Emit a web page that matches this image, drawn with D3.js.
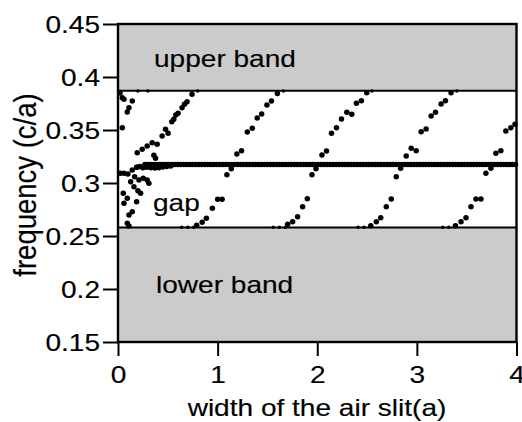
<!DOCTYPE html>
<html>
<head>
<meta charset="utf-8">
<script src="https://cdn.jsdelivr.net/npm/d3@7"></script>
<style>
    html, body { margin: 0; padding: 0; background: #fff; }
    svg { display: block; font-family: "Liberation Sans", Arial, Helvetica, sans-serif; }
    svg text { stroke: #000; stroke-width: 0.15px; }
</style>
</head>
<body>
<svg id="chart" width="522" height="422"></svg>
<script>
(function() {
    'use strict';

    // axes
    var xTicks = [0, 1, 2, 3, 4];
    var yTicks = [0.15, 0.2, 0.25, 0.3, 0.35, 0.4, 0.45];
    var xLabel = 'width of the air slit(a)';
    var yLabel = 'frequency (c/a)';

    // photonic bands (gray regions)
    var bandNames = ['upper band', 'lower band'];
    var bandLow = [0.387, 0.15];
    var bandHigh = [0.45, 0.258];
    var gapName = 'gap';

    // defect mode inside the gap, flat part
    var flatLevel = 0.3175;
    var flatX = [0.27, 0.30, 0.33, 0.36, 0.39, 0.42, 0.45, 0.48, 0.51, 0.54, 0.57, 0.60, 0.63, 0.66, 0.69,
        0.72, 0.75, 0.78, 0.81, 0.84, 0.87, 0.90, 0.93, 0.96, 0.99, 1.02, 1.05, 1.08, 1.11, 1.14, 1.17,
        1.20, 1.23, 1.26, 1.29, 1.32, 1.35, 1.38, 1.41, 1.44, 1.47, 1.50, 1.53, 1.56, 1.59, 1.62, 1.65,
        1.68, 1.71, 1.74, 1.77, 1.80, 1.83, 1.86, 1.89, 1.92, 1.95, 1.98, 2.01, 2.04, 2.07, 2.10, 2.13,
        2.16, 2.19, 2.22, 2.25, 2.28, 2.31, 2.34, 2.37, 2.40, 2.43, 2.46, 2.49, 2.52, 2.55, 2.58, 2.61,
        2.64, 2.67, 2.70, 2.73, 2.76, 2.79, 2.82, 2.85, 2.88, 2.91, 2.94, 2.97, 3.00, 3.03, 3.06, 3.09,
        3.12, 3.15, 3.18, 3.21, 3.24, 3.27, 3.30, 3.33, 3.36, 3.39, 3.42, 3.45, 3.48, 3.51, 3.54, 3.57,
        3.60, 3.63, 3.66, 3.69, 3.72, 3.75, 3.78, 3.81, 3.84, 3.87, 3.90, 3.93, 3.96, 3.99];
    var flatStart = [[0.19, 0.3148], [0.22, 0.3155], [0.25, 0.3145], [0.29, 0.3148], [0.33, 0.3145],
        [0.37, 0.3142], [0.41, 0.3145], [0.45, 0.315], [0.49, 0.3155], [0.53, 0.316]];

    // modes near zero slit width
    var leftTop = [[0.02, 0.385], [0.043, 0.3805], [0.06, 0.379], [0.143, 0.3774], [0.11, 0.371],
        [0.093, 0.367], [0.043, 0.3522]];
    var leftLow = [[0.023, 0.3092], [0.06, 0.3092], [0.10, 0.3085], [0.143, 0.3123], [0.187, 0.3148],
        [0.167, 0.306], [0.21, 0.3028], [0.253, 0.3044], [0.293, 0.3028], [0.31, 0.2997],
        [0.127, 0.3012], [0.16, 0.2965], [0.20, 0.2927], [0.227, 0.2903], [0.053, 0.2903],
        [0.093, 0.2856], [0.06, 0.2808], [0.187, 0.2824], [0.143, 0.2729], [0.11, 0.2698],
        [0.093, 0.262], [0.11, 0.2594]];

    // modes sweeping through the gap
    var mode0 = [[0.193, 0.3286], [0.243, 0.3318], [0.293, 0.3349], [0.343, 0.338], [0.393, 0.3365],
        [0.36, 0.3261], [0.377, 0.3233], [0.443, 0.3443], [0.477, 0.3507], [0.503, 0.3469],
        [0.54, 0.3578], [0.56, 0.3601], [0.58, 0.3642], [0.603, 0.3658], [0.643, 0.371],
        [0.667, 0.3742], [0.693, 0.3767], [0.743, 0.3837]];
    var mode1 = [[0.79, 0.2602], [0.845, 0.263], [0.887, 0.2667], [0.947, 0.2761], [1.0, 0.2847],
        [1.045, 0.2847], [1.093, 0.3079], [1.137, 0.3134], [1.193, 0.3274], [1.24, 0.3304],
        [1.298, 0.3481], [1.348, 0.3516], [1.397, 0.3613], [1.442, 0.365], [1.495, 0.3736],
        [1.54, 0.3774], [1.60, 0.3845]];
    var mode2 = [[1.703, 0.261], [1.753, 0.2635], [1.803, 0.2682], [1.853, 0.2776], [1.90, 0.2852],
        [1.947, 0.3078], [1.987, 0.3135], [2.047, 0.3264], [2.093, 0.3302], [2.143, 0.3469],
        [2.193, 0.3522], [2.243, 0.3604], [2.297, 0.3667], [2.347, 0.3648], [2.393, 0.3752],
        [2.443, 0.3776], [2.497, 0.3852]];
    var mode3 = [[2.537, 0.2597], [2.593, 0.2635], [2.637, 0.2673], [2.693, 0.2776], [2.743, 0.2849],
        [2.793, 0.3059], [2.837, 0.3139], [2.893, 0.3255], [2.943, 0.3327], [2.993, 0.3305],
        [3.043, 0.3484], [3.093, 0.3509], [3.143, 0.3632], [3.187, 0.3667], [3.243, 0.3745],
        [3.287, 0.3776], [3.343, 0.3852]];
    var mode4 = [[3.387, 0.2597], [3.443, 0.2635], [3.493, 0.2673], [3.543, 0.2776], [3.593, 0.2849],
        [3.643, 0.2849], [3.693, 0.3092], [3.743, 0.3139], [3.793, 0.328], [3.843, 0.3305],
        [3.893, 0.3491], [3.943, 0.3522], [3.985, 0.3555]];

    // points sitting on the band edges
    var lowEdge = [[0.64, 0.2582], [0.70, 0.2582], [0.76, 0.2582], [1.56, 0.2582], [1.62, 0.2582],
        [1.68, 0.2582], [2.41, 0.2582], [2.47, 0.2582], [3.26, 0.2582], [3.32, 0.2582]];
    var highEdge = [[0.20, 0.3868], [0.30, 0.3868], [0.80, 0.3868], [1.66, 0.3868],
        [2.55, 0.3868], [3.40, 0.3868]];

    var textScale = 1.22;   // the original lettering is wide

    var svg = d3.select('#chart');

    var x = d3.scaleLinear().domain([0, 4]).range([118, 516.5]);
    var y = d3.scaleLinear().domain([0.15, 0.45]).range([342, 24]);

    // gray bands
    svg.selectAll('rect.band')
        .data(bandNames)
        .join('rect')
        .attr('class', 'band')
        .attr('x', x(0))
        .attr('width', x(4) - x(0))
        .attr('y', function(d, i) { return y(bandHigh[i]); })
        .attr('height', function(d, i) { return y(bandLow[i]) - y(bandHigh[i]); })
        .attr('fill', '#cbcbcb');

    // band edges facing the gap
    svg.selectAll('line.edge')
        .data([bandLow[0], bandHigh[1]])
        .join('line')
        .attr('class', 'edge')
        .attr('x1', x(0)).attr('x2', x(4))
        .attr('y1', function(d) { return y(d); })
        .attr('y2', function(d) { return y(d); })
        .attr('stroke', '#000')
        .attr('stroke-width', 2);

    // all dots
    var flatPts = flatX.map(function(v) { return [v, flatLevel]; });
    var pts = [].concat(flatPts, flatStart, leftTop, leftLow, mode0, mode1, mode2, mode3, mode4);

    svg.append('g')
        .selectAll('circle')
        .data(pts)
        .join('circle')
        .attr('cx', function(d) { return x(d[0]); })
        .attr('cy', function(d) { return y(d[1]); })
        .attr('r', 2.75)
        .attr('fill', '#000');

    svg.append('g')
        .selectAll('circle')
        .data(lowEdge.concat(highEdge))
        .join('circle')
        .attr('cx', function(d) { return x(d[0]); })
        .attr('cy', function(d) { return y(d[1]); })
        .attr('r', 1.7)
        .attr('fill', '#000');

    // frame
    svg.append('rect')
        .attr('x', x(0)).attr('y', y(0.45))
        .attr('width', x(4) - x(0)).attr('height', y(0.15) - y(0.45))
        .attr('fill', 'none')
        .attr('stroke', '#000')
        .attr('stroke-width', 2.4);

    // axes
    var gy = svg.append('g')
        .attr('transform', 'translate(' + x(0) + ',0)')
        .call(d3.axisLeft(y).tickValues(yTicks).tickSize(15).tickFormat(d3.format('~g')));
    var gx = svg.append('g')
        .attr('transform', 'translate(0,' + y(0.15) + ')')
        .call(d3.axisBottom(x).tickValues(xTicks).tickSize(14).tickFormat(d3.format('d')));

    [gx, gy].forEach(function(g) {
        g.select('.domain').remove();
        g.selectAll('.tick line').attr('stroke', '#000').attr('stroke-width', 2);
        g.selectAll('.tick text')
            .attr('fill', '#000')
            .attr('font-size', 23)
            .attr('font-family', '"Liberation Sans", Arial, sans-serif');
    });

    gy.selectAll('.tick text')
        .attr('x', null).attr('dy', null)
        .attr('transform', 'translate(-18,8) scale(' + textScale + ',1)');
    gx.selectAll('.tick text')
        .attr('y', null).attr('dy', null)
        .attr('transform', 'translate(0,41) scale(' + textScale + ',1)');

    // titles
    svg.append('text')
        .attr('transform', 'translate(317,416) scale(' + textScale + ',1)')
        .attr('text-anchor', 'middle')
        .attr('font-size', 23)
        .text(xLabel);

    svg.append('text')
        .attr('transform', 'translate(36,185) scale(1.15,1) rotate(-90)')
        .attr('text-anchor', 'middle')
        .attr('font-size', 27.5)
        .text(yLabel);

    // region labels
    var labelPos = [[154, 67], [156, 293]];
    svg.selectAll('text.bandlabel')
        .data(bandNames)
        .join('text')
        .attr('class', 'bandlabel')
        .attr('transform', function(d, i) {
            return 'translate(' + labelPos[i][0] + ',' + labelPos[i][1] + ') scale(' + textScale + ',1)';
        })
        .attr('font-size', 23)
        .text(function(d) { return d; });

    svg.append('text')
        .attr('transform', 'translate(153,211) scale(' + textScale + ',1)')
        .attr('font-size', 23)
        .text(gapName);
})();
</script>
</body>
</html>
